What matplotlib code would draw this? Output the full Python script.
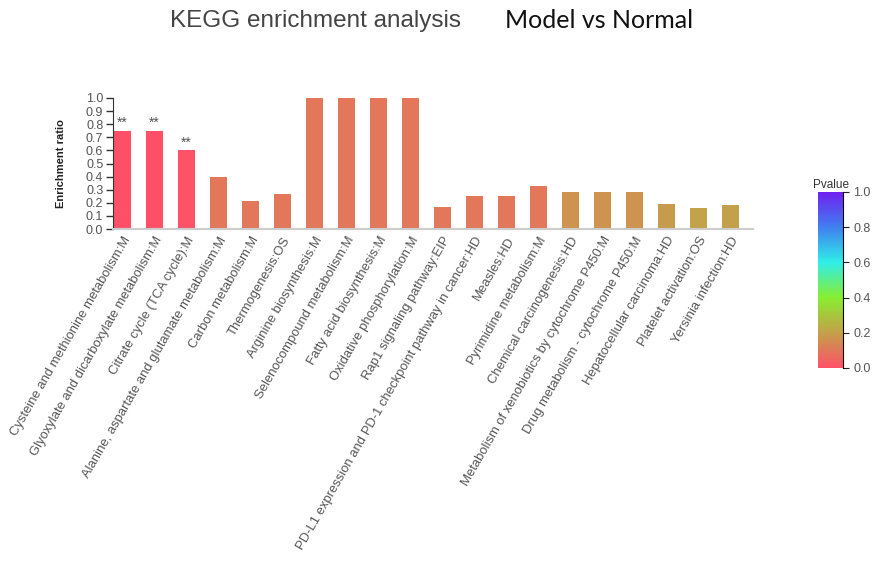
import matplotlib
matplotlib.use("Agg")
import matplotlib.pyplot as plt
from matplotlib.colors import LinearSegmentedColormap, Normalize
import numpy as np

pathways = [
    "Cysteine and methionine metabolism:M",
    "Glyoxylate and dicarboxylate metabolism:M",
    "Citrate cycle (TCA cycle):M",
    "Alanine, aspartate and glutamate metabolism:M",
    "Carbon metabolism:M",
    "Thermogenesis:OS",
    "Arginine biosynthesis:M",
    "Selenocompound metabolism:M",
    "Fatty acid biosynthesis:M",
    "Oxidative phosphorylation:M",
    "Rap1 signaling pathway:EIP",
    "PD-L1 expression and PD-1 checkpoint pathway in cancer:HD",
    "Measles:HD",
    "Pyrimidine metabolism:M",
    "Chemical carcinogenesis:HD",
    "Metabolism of xenobiotics by cytochrome P450:M",
    "Drug metabolism - cytochrome P450:M",
    "Hepatocellular carcinoma:HD",
    "Platelet activation:OS",
    "Yersinia infection:HD",
]
enrichment_ratio = [0.75, 0.75, 0.60, 0.40, 0.21, 0.27, 1.0, 1.0, 1.0, 1.0,
                    0.165, 0.25, 0.25, 0.33, 0.28, 0.28, 0.28, 0.19, 0.16, 0.18]
pvalue = [0.002, 0.002, 0.004, 0.10, 0.10, 0.10, 0.10, 0.10, 0.10, 0.10,
          0.10, 0.10, 0.10, 0.10, 0.17, 0.17, 0.17, 0.19, 0.21, 0.20]
significance = ["**", "**", "**"] + [""] * 17

cmap = LinearSegmentedColormap.from_list(
    "pv", [(0.0, "#ff5068"), (0.2, "#c4a04a"), (0.4, "#88ee30"),
           (0.6, "#30eee8"), (0.8, "#4080f0"), (1.0, "#7020f0")])
norm = Normalize(0, 1)

plt.rcParams['font.family'] = ['Liberation Sans', 'DejaVu Sans']

W, H = 877, 563
fig = plt.figure(figsize=(W / 100, H / 100), dpi=100)
ax = fig.add_axes([113 / W, (H - 229) / H, 640 / W, 131 / H])

x = np.arange(len(pathways))
colors = [cmap(norm(p)) for p in pvalue]
ax.bar(x, enrichment_ratio, width=0.53, color=colors)
for xi, v, s in zip(x, enrichment_ratio, significance):
    if s:
        ax.text(xi, v + 0.005, s, ha="center", va="bottom", fontsize=10, color="#555555")

ax.set_xlim(-0.3, 19.7)
ax.set_ylim(0, 1.0)
ax.set_yticks(np.arange(0, 1.01, 0.1))
ax.set_yticklabels([f"{t:.1f}" for t in np.arange(0, 1.01, 0.1)], fontsize=9, color="#555555")
ax.tick_params(axis="y", length=5, width=1, color="#333333", pad=2)
ax.set_xticks(x)
ax.set_xticklabels(pathways, rotation=60, ha="right", rotation_mode="anchor",
                   fontsize=9.4, color="#555555")
ax.tick_params(axis="x", length=0, pad=4)
for s in ["top", "right"]:
    ax.spines[s].set_visible(False)
ax.spines["left"].set_color("#333333")
ax.spines["bottom"].set_color("#cccccc")
ax.spines["bottom"].set_linewidth(1.5)
ax.set_ylabel("Enrichment ratio", fontsize=8, fontweight="bold", color="#222222", labelpad=14)

# colorbar
cax = fig.add_axes([818 / W, (H - 368) / H, 25 / W, 176 / H])
sm = matplotlib.cm.ScalarMappable(norm=norm, cmap=cmap)
cb = fig.colorbar(sm, cax=cax)
cb.outline.set_visible(False)
cax.spines["right"].set_visible(True)
cb.set_ticks([0.0, 0.2, 0.4, 0.6, 0.8, 1.0])
cb.set_ticklabels(["0.0", "0.2", "0.4", "0.6", "0.8", "1.0"])
cax.tick_params(labelsize=9, labelcolor="#555555", length=4, color="#222222")
cax.set_title("Pvalue", fontsize=8.5, color="#333333", pad=3)

fig.text(170 / W, 1 - 21 / H, "KEGG enrichment analysis", fontsize=17.5, color="#444444",
         va="center", ha="left")
fig.text(505 / W, 1 - 21 / H, "Model vs Normal", fontsize=18, color="#111111",
         va="center", ha="left", family=["Lato", "DejaVu Sans"])

fig.savefig("out.png", dpi=100, facecolor="white")
